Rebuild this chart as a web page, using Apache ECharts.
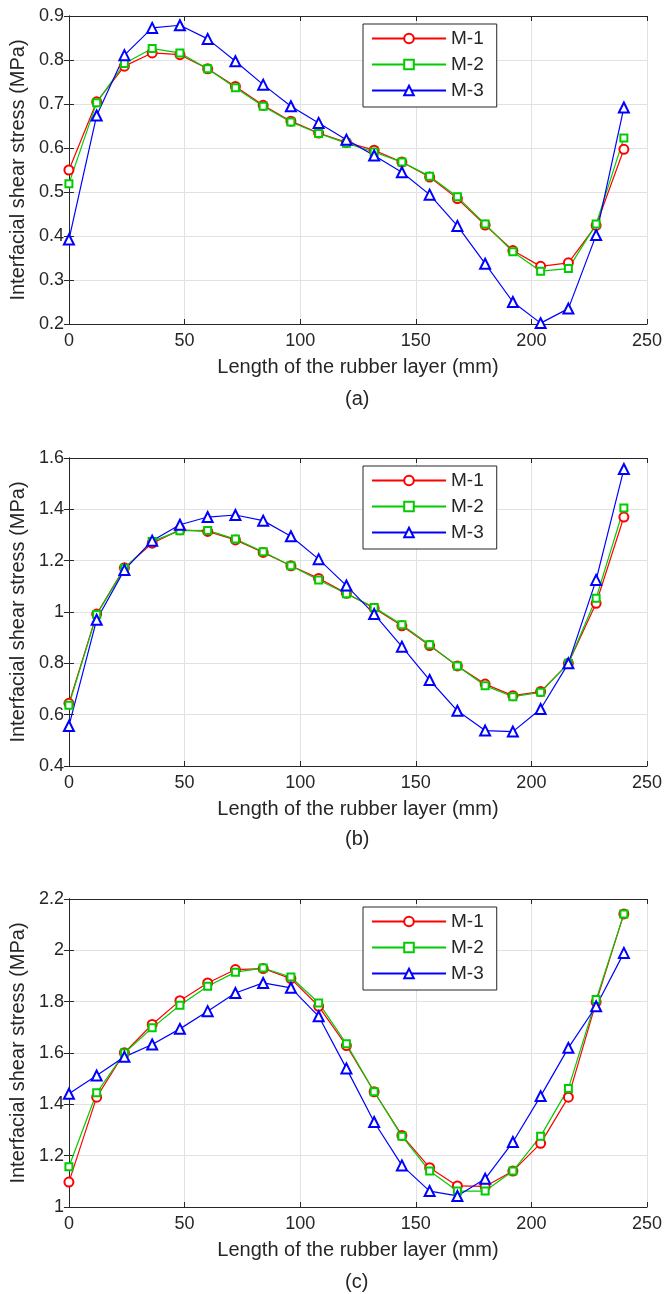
<!DOCTYPE html>
<html>
<head>
<meta charset="utf-8">
<title>Interfacial shear stress</title>
<script src="https://cdn.jsdelivr.net/npm/echarts@6.0.0/dist/echarts.min.js"></script>
<style>
  html, body { margin: 0; padding: 0; background: #fff; }
  #chart { width: 666px; height: 1294px; }
</style>
</head>
<body>
<div id="chart"></div>
<script>
// positions along the rubber layer (mm)
const lengths = [0, 12, 24, 36, 48, 60, 72, 84, 96, 108, 120, 132, 144, 156, 168, 180, 192, 204, 216, 228, 240];
const seriesNames = ['M-1', 'M-2', 'M-3'];
const captions = ['(a)', '(b)', '(c)'];

// panel (a)
const stressA_M1 = [0.55, 0.705, 0.786, 0.816, 0.812, 0.78, 0.74, 0.697, 0.661, 0.634, 0.613, 0.595, 0.568, 0.534, 0.485, 0.425, 0.367, 0.331, 0.339, 0.424, 0.597];
const stressA_M2 = [0.519, 0.703, 0.792, 0.826, 0.816, 0.78, 0.737, 0.695, 0.659, 0.633, 0.611, 0.591, 0.568, 0.536, 0.489, 0.427, 0.364, 0.32, 0.326, 0.427, 0.623];
const stressA_M3 = [0.392, 0.674, 0.811, 0.873, 0.879, 0.848, 0.797, 0.744, 0.695, 0.657, 0.619, 0.583, 0.545, 0.494, 0.423, 0.337, 0.25, 0.202, 0.235, 0.402, 0.692];

// panel (b)
const stressB_M1 = [0.644, 0.992, 1.172, 1.268, 1.32, 1.314, 1.281, 1.232, 1.18, 1.131, 1.073, 1.015, 0.946, 0.869, 0.79, 0.719, 0.674, 0.69, 0.8, 1.034, 1.37];
const stressB_M2 = [0.637, 0.99, 1.17, 1.275, 1.317, 1.318, 1.284, 1.235, 1.18, 1.125, 1.071, 1.018, 0.95, 0.872, 0.79, 0.713, 0.67, 0.687, 0.8, 1.054, 1.405];
const stressB_M3 = [0.556, 0.97, 1.164, 1.278, 1.34, 1.37, 1.378, 1.356, 1.295, 1.206, 1.103, 0.992, 0.865, 0.735, 0.615, 0.538, 0.534, 0.622, 0.8, 1.125, 1.557];

// panel (c)
const stressC_M1 = [1.097, 1.428, 1.601, 1.711, 1.804, 1.873, 1.925, 1.929, 1.89, 1.782, 1.629, 1.449, 1.279, 1.153, 1.082, 1.08, 1.14, 1.248, 1.428, 1.798, 2.142];
const stressC_M2 = [1.157, 1.445, 1.6, 1.698, 1.786, 1.86, 1.915, 1.931, 1.896, 1.795, 1.636, 1.449, 1.276, 1.14, 1.062, 1.062, 1.14, 1.276, 1.462, 1.808, 2.142];
const stressC_M3 = [1.441, 1.512, 1.585, 1.633, 1.694, 1.763, 1.834, 1.873, 1.854, 1.743, 1.54, 1.331, 1.162, 1.062, 1.043, 1.11, 1.253, 1.432, 1.62, 1.782, 1.99];

// y axis ranges per panel: [min, max, interval]
const yRanges = [[0.2, 0.9, 0.1], [0.4, 1.6, 0.2], [1.0, 2.2, 0.2]];
const xRange = [0, 250, 50];

const panels = [
  [stressA_M1, stressA_M2, stressA_M3],
  [stressB_M1, stressB_M2, stressB_M3],
  [stressC_M1, stressC_M2, stressC_M3]
];

const gridTops = [16, 458, 899];
const gridHeight = 308;
const gridLeft = 68;
const gridRight = 19;
const captionTops = [384, 824, 1267];

const FONT = '"Liberation Sans", Arial, sans-serif';
const INK = '#262626';
const GRIDLINE = '#e2e2e2';

const styles = [
  { color: '#ff0000', symbol: 'emptyCircle', size: 9 },
  { color: '#00cc00', symbol: 'emptyRect', size: 7 },
  { color: '#0000ff', symbol: 'emptyTriangle', size: 10 }
];

const toPoints = (values) => lengths.map((x, i) => [x, values[i]]);

const chart = echarts.init(document.getElementById('chart'), null, { renderer: 'canvas' });

const grid = [];
const xAxis = [];
const yAxis = [];
const series = [];
const legend = [];
const title = [];

panels.forEach((panel, p) => {
  grid.push({
    left: gridLeft,
    right: gridRight,
    top: gridTops[p],
    height: gridHeight,
    show: false
  });

  const [ymin, ymax, yint] = yRanges[p];

  // bottom x axis with labels and name
  xAxis.push({
    type: 'value',
    gridIndex: p,
    position: 'bottom',
    min: xRange[0],
    max: xRange[1],
    interval: xRange[2],
    name: 'Length of the rubber layer (mm)',
    nameLocation: 'middle',
    nameGap: 33,
    nameTextStyle: { fontSize: 20, color: INK, fontFamily: FONT },
    axisLine: { lineStyle: { color: INK, width: 1 } },
    axisTick: { inside: true, length: 5, lineStyle: { color: INK } },
    axisLabel: { fontSize: 18, color: INK, fontFamily: FONT, margin: 8 },
    splitLine: { show: true, lineStyle: { color: GRIDLINE, width: 1 } }
  });
  // top x axis: frame + ticks only
  xAxis.push({
    type: 'value',
    gridIndex: p,
    position: 'top',
    min: xRange[0],
    max: xRange[1],
    interval: xRange[2],
    axisLine: { lineStyle: { color: INK, width: 1 } },
    axisTick: { inside: true, length: 5, lineStyle: { color: INK } },
    axisLabel: { show: false },
    splitLine: { show: false }
  });

  yAxis.push({
    type: 'value',
    gridIndex: p,
    position: 'left',
    min: ymin,
    max: ymax,
    interval: yint,
    name: 'Interfacial shear stress (MPa)',
    nameLocation: 'middle',
    nameGap: 31,
    nameTextStyle: { fontSize: 20, color: INK, fontFamily: FONT },
    axisLine: { show: true, lineStyle: { color: INK, width: 1 } },
    axisTick: { show: true, inside: true, length: 5, lineStyle: { color: INK } },
    axisLabel: {
      fontSize: 18,
      color: INK,
      fontFamily: FONT,
      margin: 5,
      formatter: (v) => String(Math.round(v * 10) / 10)
    },
    splitLine: { show: true, lineStyle: { color: GRIDLINE, width: 1 } }
  });
  yAxis.push({
    type: 'value',
    gridIndex: p,
    position: 'right',
    min: ymin,
    max: ymax,
    interval: yint,
    axisLine: { show: true, lineStyle: { color: INK, width: 1 } },
    axisTick: { show: true, inside: true, length: 5, lineStyle: { color: INK } },
    axisLabel: { show: false },
    splitLine: { show: false }
  });

  panel.forEach((values, s) => {
    const st = styles[s];
    series.push({
      name: seriesNames[s],
      type: 'line',
      xAxisIndex: p * 2,
      yAxisIndex: p * 2,
      data: toPoints(values),
      symbol: st.symbol,
      symbolSize: st.size,
      showAllSymbol: true,
      color: st.color,
      lineStyle: { color: st.color, width: 1.2 },
      itemStyle: { color: st.color, borderWidth: 1.2 },
      emphasis: { disabled: true },
      animation: false
    });
  });

  legend.push({
    data: seriesNames,
    orient: 'vertical',
    left: 363,
    top: gridTops[p] + 8,
    itemWidth: 74,
    itemHeight: 12,
    itemGap: 7,
    padding: [5, 13, 7, 8],
    borderColor: INK,
    borderWidth: 1,
    backgroundColor: '#fff',
    textStyle: { fontSize: 19, color: INK, fontFamily: FONT },
    selectedMode: false
  });

  title.push({
    text: captions[p],
    left: 340,
    top: captionTops[p],
    textStyle: { fontSize: 20, fontWeight: 'normal', color: INK, fontFamily: FONT }
  });
});

chart.setOption({
  backgroundColor: '#fff',
  animation: false,
  title,
  legend,
  grid,
  xAxis,
  yAxis,
  series
});

window.addEventListener('resize', () => chart.resize());
</script>
</body>
</html>
